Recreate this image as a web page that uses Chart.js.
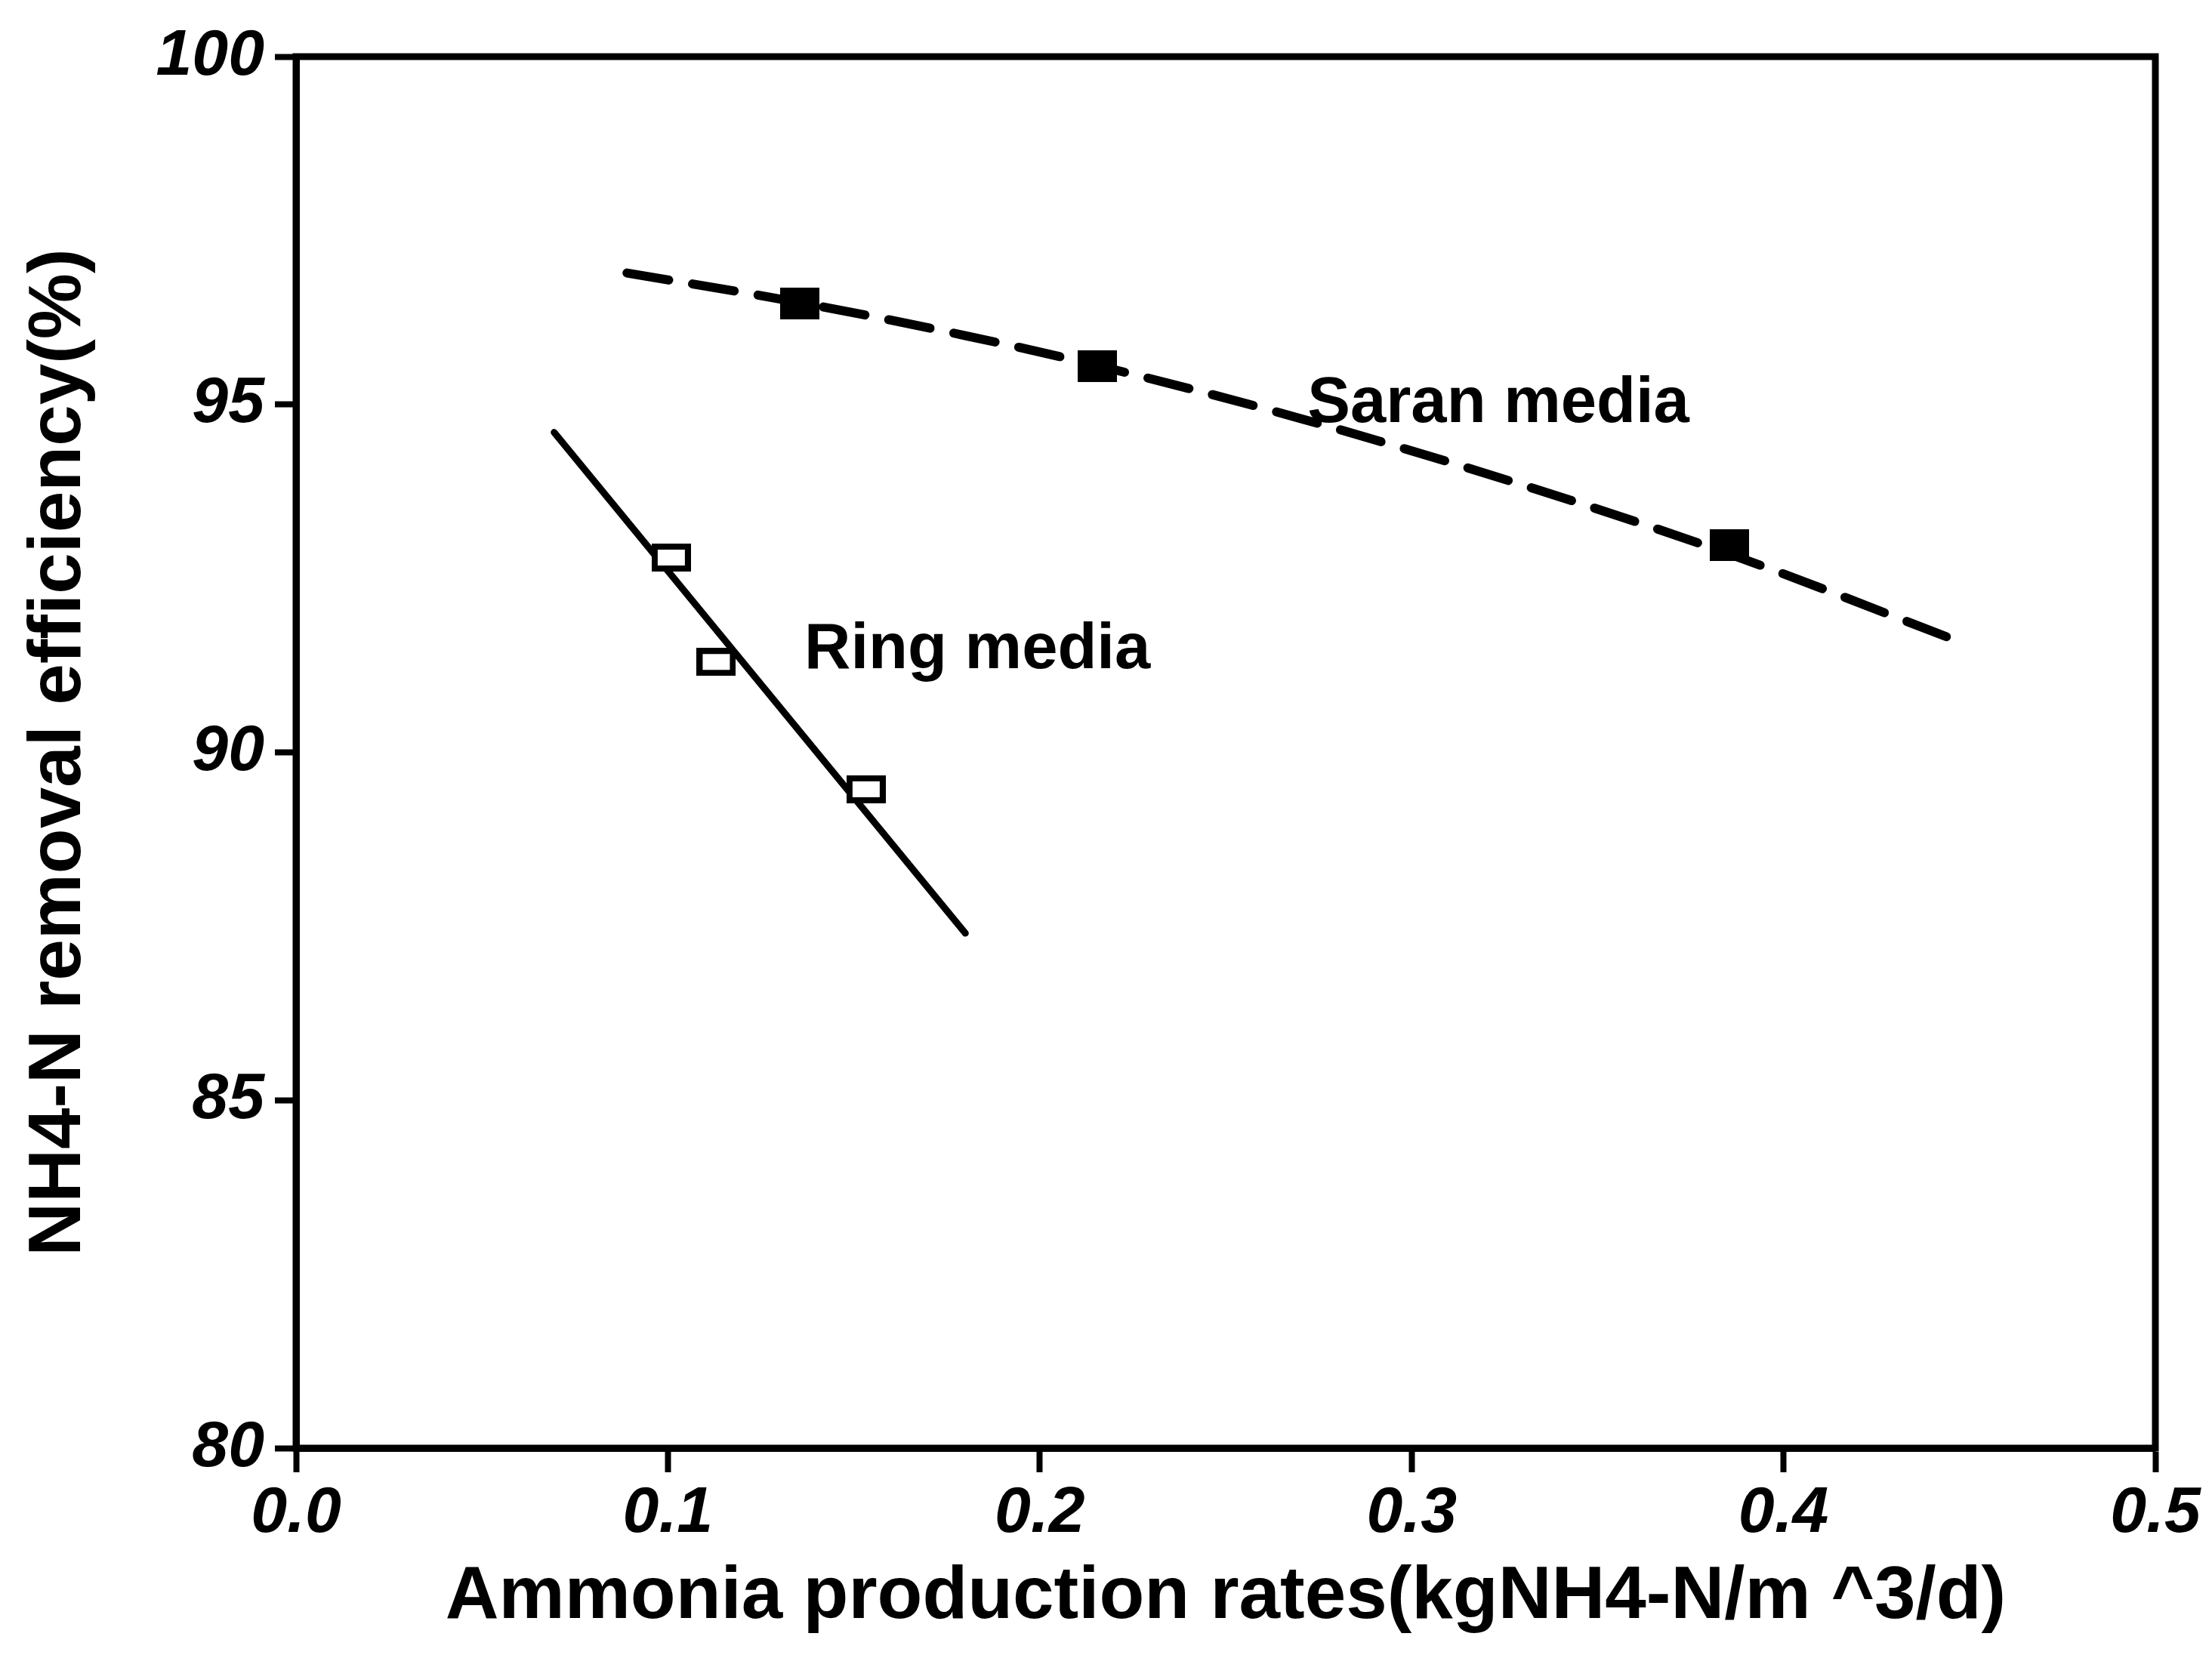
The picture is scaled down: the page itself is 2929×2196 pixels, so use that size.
<!DOCTYPE html>
<html>
<head>
<meta charset="utf-8">
<script src="https://cdn.jsdelivr.net/npm/chart.js@4.4.0/dist/chart.umd.min.js"></script>
<style>
  body { margin: 0; background: #fff; }
  #wrap { width: 2929px; height: 2196px; }
</style>
</head>
<body>
<div id="wrap"><canvas id="chart-nh4"></canvas></div>
<script>
// values
const saranX = [0.1354, 0.2155, 0.3855];
const saranY = [96.45, 95.55, 92.98];
const ringX = [0.1009, 0.113, 0.1533];
const ringY = [92.8, 91.3, 89.47];

// fitted curves as drawn in the figure
const saranFitX = [0.089, 0.135, 0.18, 0.2155, 0.27, 0.33, 0.3855, 0.4464];
const saranFitY = [96.89, 96.47, 95.99, 95.56, 94.80, 93.84, 92.85, 91.61];
const ringFitX = [0.0694, 0.18];
const ringFitY = [94.6, 87.4];

const xTickValues = [0, 0.1, 0.2, 0.3, 0.4, 0.5];
const xTickLabels = ['0.0', '0.1', '0.2', '0.3', '0.4', '0.5'];
const yTickValues = [80, 85, 90, 95, 100];
const yTickLabels = ['80', '85', '90', '95', '100'];

const mediaLabels = ['Saran media', 'Ring media'];
const mediaLabelX = [0.272, 0.1367];
const mediaLabelY = [95.0, 91.46];

const xTitle = 'Ammonia production rates(kgNH4-N/m ^3/d)';
const yTitle = 'NH4-N removal efficiency(%)';

const toPoints = (xs, ys) => xs.map((x, i) => ({ x: x, y: ys[i] }));

// little box markers (the scan has slightly wide rectangles)
function boxMarker(w, h, hollow, lw) {
  const c = document.createElement('canvas');
  c.width = w; c.height = h;
  const g = c.getContext('2d');
  g.fillStyle = '#000';
  g.fillRect(0, 0, w, h);
  if (hollow) {
    g.fillStyle = '#fff';
    g.fillRect(lw, lw, w - 2 * lw, h - 2 * lw);
  }
  return c;
}
const saranMarker = boxMarker(52, 42, false, 0);
const ringMarker = boxMarker(52, 37, true, 8);

const tickFont = { family: '"Liberation Sans", Arial, sans-serif', size: 86, weight: 'bold', style: 'italic' };
const titleFont = { family: '"Liberation Sans", Arial, sans-serif', size: 98, weight: 'bold' };

// frame round the plot area
const frame = {
  id: 'frame',
  afterDraw(chart) {
    const a = chart.chartArea, ctx = chart.ctx;
    ctx.save();
    ctx.strokeStyle = '#000';
    ctx.lineWidth = 9;
    ctx.strokeRect(a.left, a.top, a.right - a.left, a.bottom - a.top);
    ctx.restore();
  }
};

// the two in-plot labels
const labels = {
  id: 'mediaLabels',
  afterDatasetsDraw(chart) {
    const ctx = chart.ctx, x = chart.scales.x, y = chart.scales.y;
    ctx.save();
    ctx.font = 'bold 85px "Liberation Sans", Arial, sans-serif';
    ctx.fillStyle = '#000';
    ctx.textBaseline = 'middle';
    ctx.textAlign = 'left';
    mediaLabels.forEach((t, i) => {
      ctx.fillText(t, x.getPixelForValue(mediaLabelX[i]), y.getPixelForValue(mediaLabelY[i]));
    });
    ctx.restore();
  }
};

const ctx = document.getElementById('chart-nh4').getContext('2d');
const myChart = new Chart(ctx, {
  type: 'scatter',
  data: {
    datasets: [
      {
        label: 'Saran media',
        data: toPoints(saranX, saranY),
        pointStyle: saranMarker,
        pointRadius: 26,
        order: 0
      },
      {
        label: 'Ring media',
        data: toPoints(ringX, ringY),
        pointStyle: ringMarker,
        pointRadius: 26,
        order: 0
      },
      {
        label: 'Saran fit',
        data: toPoints(saranFitX, saranFitY),
        showLine: true,
        borderColor: '#000',
        borderWidth: 12,
        borderDash: [56, 32],
        borderCapStyle: 'round',
        cubicInterpolationMode: 'monotone',
        pointRadius: 0,
        order: 1
      },
      {
        label: 'Ring fit',
        data: toPoints(ringFitX, ringFitY),
        showLine: true,
        borderColor: '#000',
        borderWidth: 9,
        borderCapStyle: 'round',
        pointRadius: 0,
        order: 1
      }
    ]
  },
  options: {
    responsive: true,
    maintainAspectRatio: false,
    animation: false,
    devicePixelRatio: 1,
    layout: { padding: { top: 75, right: 75, left: 0, bottom: 0 } },
    plugins: { legend: { display: false }, tooltip: { enabled: false } },
    scales: {
      x: {
        type: 'linear',
        position: 'bottom',
        min: 0,
        max: 0.5,
        afterBuildTicks: s => { s.ticks = xTickValues.map(v => ({ value: v })); },
        afterFit: s => { s.height = 278; },
        ticks: {
          font: tickFont,
          color: '#000',
          padding: 4,
          maxRotation: 0,
          autoSkip: false,
          callback: v => xTickLabels[xTickValues.indexOf(v)]
        },
        grid: { drawOnChartArea: false, tickLength: 32, tickWidth: 8, tickColor: '#000' },
        border: { display: true, color: '#000', width: 9 },
        title: { display: true, text: xTitle, font: titleFont, color: '#000', padding: { top: 0, bottom: 21 } }
      },
      y: {
        type: 'linear',
        min: 80,
        max: 100,
        afterBuildTicks: s => { s.ticks = yTickValues.map(v => ({ value: v })); },
        afterFit: s => { s.width = 392; },
        ticks: {
          font: tickFont,
          color: '#000',
          padding: 14,
          autoSkip: false,
          callback: v => yTickLabels[yTickValues.indexOf(v)]
        },
        grid: { drawOnChartArea: false, tickLength: 28, tickWidth: 8, tickColor: '#000' },
        border: { display: true, color: '#000', width: 9 },
        title: { display: true, text: yTitle, font: { family: '"Liberation Sans", Arial, sans-serif', size: 98, weight: 'bold' }, color: '#000', padding: { top: 20, bottom: 0 } }
      }
    }
  },
  plugins: [frame, labels]
});
</script>
</body>
</html>
